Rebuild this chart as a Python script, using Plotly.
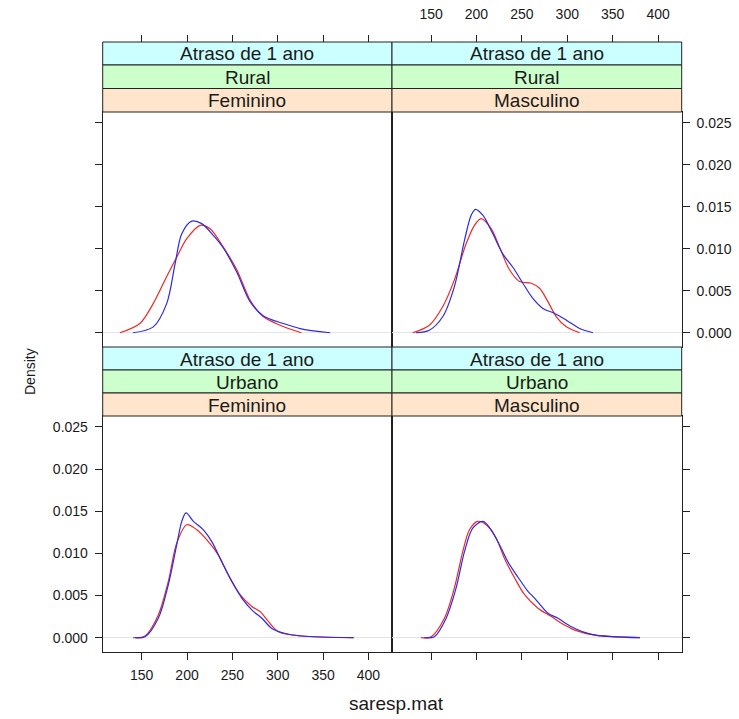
import plotly.graph_objects as go

# ---------------- data ----------------
x_ticks = [150, 200, 250, 300, 350, 400]
x_ticklabels = ["150", "200", "250", "300", "350", "400"]
y_ticks = [0.0, 0.005, 0.010, 0.015, 0.020, 0.025]
y_ticklabels = ["0.000", "0.005", "0.010", "0.015", "0.020", "0.025"]

strip_atraso = ["Atraso de 1 ano", "Atraso de 1 ano", "Atraso de 1 ano", "Atraso de 1 ano"]
strip_local = ["Rural", "Rural", "Urbano", "Urbano"]
strip_sexo = ["Feminino", "Masculino", "Feminino", "Masculino"]

# Rural / Feminino
rf_red_x = [126, 148, 162.8, 177.6, 188.6, 199.7, 214.4, 225.4, 240, 254.9, 269.5, 284.2, 302.7, 326]
rf_red_y = [0, 0.0011, 0.0035, 0.0067, 0.0090, 0.0112, 0.0128, 0.0124, 0.0102, 0.0075, 0.0039, 0.0019, 0.0009, 0]
rf_blue_x = [140.5, 162.8, 177.6, 186.8, 194.2, 205.2, 216.2, 229, 240, 254.9, 269.5, 284.2, 306.3, 324.7, 357.8]
rf_blue_y = [0, 0.0007, 0.0035, 0.0082, 0.0118, 0.0133, 0.0130, 0.0116, 0.0101, 0.0072, 0.0037, 0.0020, 0.0011, 0.0005, 0]

# Rural / Masculino
rm_red_x = [129.7, 148.1, 162.8, 175.7, 188.6, 197.8, 205.2, 216.2, 225.4, 236.4, 247.5, 260.4, 269.5, 278.7, 288, 299, 313.7]
rm_red_y = [0, 0.0009, 0.0031, 0.0063, 0.0106, 0.0128, 0.0136, 0.0124, 0.0102, 0.0075, 0.0061, 0.0059, 0.0053, 0.0037, 0.0019, 0.0007, 0]
rm_blue_x = [133.4, 148.1, 162.8, 175.7, 186.8, 194.2, 198.9, 207, 218, 229, 240.1, 251.1, 262.1, 273.2, 286.1, 299, 313.7, 328.4]
rm_blue_y = [0, 0.0003, 0.0019, 0.0055, 0.0110, 0.0140, 0.0147, 0.0140, 0.0118, 0.0094, 0.0078, 0.0059, 0.0041, 0.0029, 0.0023, 0.0015, 0.0005, 0]

# Urbano / Feminino
uf_red_x = [140.5, 153.6, 168.3, 179.4, 188.6, 199.7, 210.7, 223.5, 234.6, 245.6, 258.5, 271.4, 280.6, 289.8, 300.8, 326.6, 383.6]
uf_red_y = [0, 0.0002, 0.0027, 0.0067, 0.0112, 0.0134, 0.0128, 0.0114, 0.0098, 0.0074, 0.0051, 0.0037, 0.0031, 0.0019, 0.0007, 0.0002, 0]
uf_blue_x = [142.7, 153.6, 168.3, 179.4, 188.6, 194.2, 198.9, 207, 218, 227.3, 238.3, 249.3, 260.4, 271.4, 282.5, 293.5, 308.2, 326.6, 383.6]
uf_blue_y = [0, 0.0001, 0.0023, 0.0063, 0.0110, 0.0138, 0.0148, 0.0138, 0.0128, 0.0114, 0.0090, 0.0067, 0.0047, 0.0033, 0.0023, 0.0011, 0.0005, 0.0002, 0]

# Urbano / Masculino
um_red_x = [139, 150, 164.7, 175.7, 184.9, 192.3, 201.4, 210.7, 221.7, 230.9, 241.9, 253, 267.7, 282.5, 293.5, 308.2, 330.3, 380]
um_red_y = [0, 0.0001, 0.0023, 0.0059, 0.0102, 0.0128, 0.0138, 0.0134, 0.0118, 0.0094, 0.0071, 0.0051, 0.0035, 0.0025, 0.0017, 0.0009, 0.0003, 0]
um_blue_x = [142.6, 153.6, 166.6, 177.6, 186.8, 195.9, 207, 216.2, 227.3, 234.6, 245.6, 256.7, 264, 278.7, 289.8, 304.5, 326.6, 380]
um_blue_y = [0, 0.0001, 0.0023, 0.0059, 0.0102, 0.0130, 0.0138, 0.0128, 0.0106, 0.0090, 0.0072, 0.0055, 0.0047, 0.0029, 0.0023, 0.0013, 0.0004, 0]

x_range = [107, 426]
y_range = [-0.0017, 0.0263]

# ---------------- layout geometry (pixels) ----------------
W, H = 739, 719
col_px = [(102.7, 392.0), (392.0, 681.7)]
row_px = [(112.0, 347.0), (416.0, 652.0)]
strip_rows_px = [[(42, 65), (65, 88.5), (88.5, 112)], [(347, 370), (370, 393), (393, 416)]]
strip_fill = ["#ccffff", "#ccffcc", "#ffe5cc"]

def fx(p):
    return p / W

def fy(p):
    return 1 - p / H

FONT = "Liberation Sans, Arial, sans-serif"
TXT = "#1a1a1a"
RED = "#ee2a24"
BLUE = "#2a2ae8"

fig = go.Figure()

panels = [
    (rf_red_x, rf_red_y, rf_blue_x, rf_blue_y),
    (rm_red_x, rm_red_y, rm_blue_x, rm_blue_y),
    (uf_red_x, uf_red_y, uf_blue_x, uf_blue_y),
    (um_red_x, um_red_y, um_blue_x, um_blue_y),
]
for i, (rx, ry, bx, by) in enumerate(panels):
    ax = "" if i == 0 else str(i + 1)
    fig.add_trace(go.Scatter(x=rx, y=ry, mode="lines", line=dict(color=RED, width=1.2, shape="spline", smoothing=0.9),
                             xaxis="x" + ax, yaxis="y" + ax, showlegend=False, hoverinfo="skip"))
    fig.add_trace(go.Scatter(x=bx, y=by, mode="lines", line=dict(color=BLUE, width=1.2, shape="spline", smoothing=0.9),
                             xaxis="x" + ax, yaxis="y" + ax, showlegend=False, hoverinfo="skip"))

# dummy traces so the top tick axes are drawn
fig.add_trace(go.Scatter(x=[None], y=[None], xaxis="x5", yaxis="y", showlegend=False, hoverinfo="skip"))
fig.add_trace(go.Scatter(x=[None], y=[None], xaxis="x6", yaxis="y2", showlegend=False, hoverinfo="skip"))

tickfont = dict(family=FONT, size=14, color=TXT)
common_x = dict(range=x_range, tickvals=x_ticks, ticktext=x_ticklabels, showgrid=False, zeroline=False,
                showline=True, mirror=True, linecolor="#222", linewidth=1, tickcolor="#222", ticklen=7,
                tickfont=tickfont, fixedrange=True)
common_y = dict(range=y_range, tickvals=y_ticks, ticktext=y_ticklabels, showgrid=False, zeroline=True,
                zerolinecolor="#e4e4e4", zerolinewidth=1,
                showline=True, mirror=True, linecolor="#222", linewidth=1, tickcolor="#222", ticklen=7,
                tickfont=tickfont, fixedrange=True)

L = [fx(col_px[0][0]), fx(col_px[0][1])]
R = [fx(col_px[1][0]), fx(col_px[1][1])]
T = [fy(row_px[0][1]), fy(row_px[0][0])]
B = [fy(row_px[1][1]), fy(row_px[1][0])]

fig.update_layout(
    xaxis=dict(common_x, domain=L, anchor="y", ticks="", showticklabels=False),
    yaxis=dict(common_y, domain=T, anchor="x", ticks="outside", showticklabels=False),
    xaxis2=dict(common_x, domain=R, anchor="y2", ticks="", showticklabels=False),
    yaxis2=dict(common_y, domain=T, anchor="x2", side="right", ticks="outside", showticklabels=True,
                ticklabelstandoff=4),
    xaxis3=dict(common_x, domain=L, anchor="y3", ticks="outside", showticklabels=True, ticklabelstandoff=3),
    yaxis3=dict(common_y, domain=B, anchor="x3", ticks="outside", showticklabels=True, ticklabelstandoff=4),
    xaxis4=dict(common_x, domain=R, anchor="y4", ticks="outside", showticklabels=False),
    yaxis4=dict(common_y, domain=B, anchor="x4", side="right", ticks="outside", showticklabels=False),
    xaxis5=dict(common_x, domain=L, anchor="free", position=fy(42), side="top", overlaying="x",
                showline=False, ticks="outside", showticklabels=False),
    xaxis6=dict(common_x, domain=R, anchor="free", position=fy(42), side="top", overlaying="x2",
                showline=False, ticks="outside", showticklabels=True, ticklabelstandoff=10),
)

# strips
shapes = []
annotations = []
for i in range(4):
    c = i % 2
    r = i // 2
    texts = [strip_atraso[i], strip_local[i], strip_sexo[i]]
    for k in range(3):
        y0, y1 = strip_rows_px[r][k]
        shapes.append(dict(type="rect", xref="paper", yref="paper",
                           x0=fx(col_px[c][0]), x1=fx(col_px[c][1]), y0=fy(y1), y1=fy(y0),
                           fillcolor=strip_fill[k], line=dict(color="#222", width=1), layer="above"))
        annotations.append(dict(xref="paper", yref="paper", x=fx((col_px[c][0] + col_px[c][1]) / 2),
                                y=fy((y0 + y1) / 2 + 0.5), text=texts[k], showarrow=False,
                                font=dict(family=FONT, size=19, color=TXT), xanchor="center", yanchor="middle"))

annotations.append(dict(xref="paper", yref="paper", x=fx(30), y=fy(372), text="Density", textangle=-90,
                        showarrow=False, font=dict(family=FONT, size=14, color=TXT),
                        xanchor="center", yanchor="middle"))
annotations.append(dict(xref="paper", yref="paper", x=fx(396), y=fy(703), text="saresp.mat",
                        showarrow=False, font=dict(family=FONT, size=19, color=TXT),
                        xanchor="center", yanchor="middle"))

fig.update_layout(shapes=shapes, annotations=annotations, width=W, height=H, autosize=False,
                  margin=dict(l=0, r=0, t=0, b=0), paper_bgcolor="white", plot_bgcolor="white",
                  showlegend=False)

fig.write_html("out.html", config={"displayModeBar": False},
               post_script="document.body.style.margin='0px';document.body.style.padding='0px';")
